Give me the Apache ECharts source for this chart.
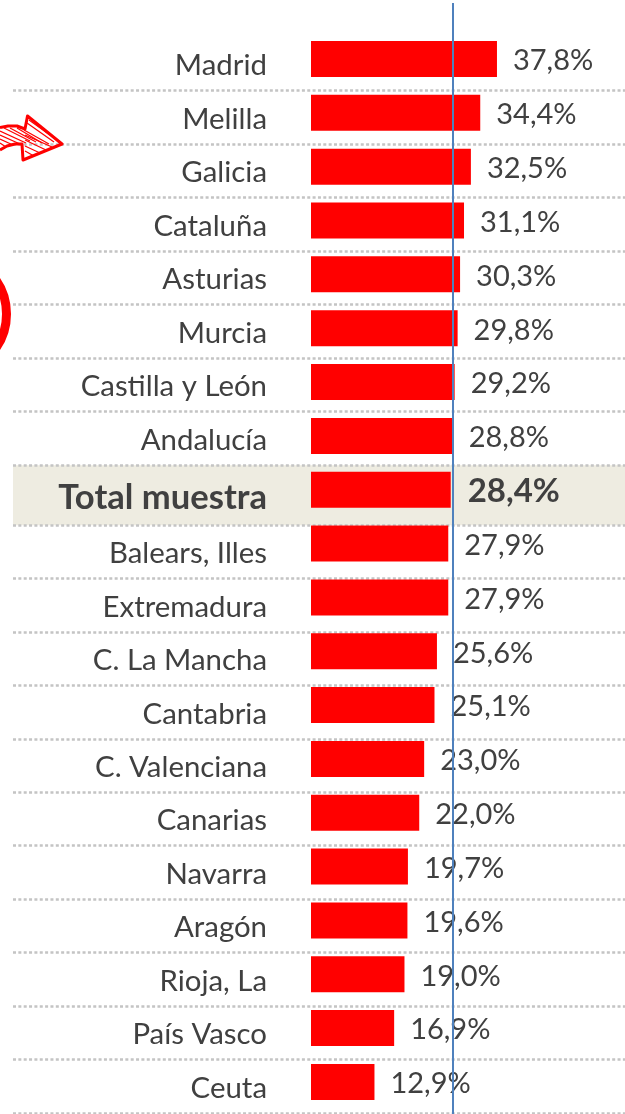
<!DOCTYPE html>
<html>
<head>
<meta charset="utf-8">
<style>html,body{margin:0;padding:0;background:#fff}#c{width:625px;height:1114px}</style>
<script src="https://cdn.jsdelivr.net/npm/echarts@6/dist/echarts.min.js"></script>
</head>
<body>
<div id="c"></div>
<script>
const categories = ['Madrid','Melilla','Galicia','Cataluña','Asturias','Murcia','Castilla y León','Andalucía','Total muestra','Balears, Illes','Extremadura','C. La Mancha','Cantabria','C. Valenciana','Canarias','Navarra','Aragón','Rioja, La','País Vasco','Ceuta'];
const values = [37.8,34.4,32.5,31.1,30.3,29.8,29.2,28.8,28.4,27.9,27.9,25.6,25.1,23.0,22.0,19.7,19.6,19.0,16.9,12.9];
const totalName = 'Total muestra';
const referenceValue = 28.86;

const FONT = 'Lato';
const TEXT = '#404040';
const totalIdx = categories.indexOf(totalName);
const rowGroups = [categories.slice(0,totalIdx), [totalName], categories.slice(totalIdx+1)];
const rowLayouts = [
  {top:37.2, height:428, min:false, max:true},
  {top:465.2, height:60, min:false, max:false, bg:'#eeece1'},
  {top:525, height:588, min:true, max:true}
];
const fmt = v => v.toFixed(1).replace('.',',') + '%';

const grids = [], xAxes = [], yAxes = [], series = [];
rowGroups.forEach((names,i)=>{
  const L = rowLayouts[i], bold = names[0]===totalName;
  const size = bold ? 34.6 : 29.4;
  grids.push({left:13,width:612,top:L.top,height:L.height,show:!!L.bg,backgroundColor:L.bg||'transparent',borderWidth:0});
  xAxes.push({gridIndex:i,type:'value',min:0,max:1,show:false});
  yAxes.push({gridIndex:i,type:'category',inverse:true,data:names,offset:-254,
    axisLine:{show:false},axisTick:{show:false},
    axisLabel:{margin:0,formatter:'{a|{value}}',
      rich:{a:{padding:[bold?6:4,0,0,0],fontFamily:FONT,fontSize:size,fontWeight:bold?'bold':'normal',color:TEXT}}},
    splitLine:{show:true,showMinLine:L.min,showMaxLine:L.max,lineStyle:{color:'#c4c4c4',width:2.5,type:[3,2.35]}}
  });
  series.push({type:'bar',xAxisIndex:i,yAxisIndex:i,data:names.map(()=>0),silent:true,itemStyle:{color:'transparent'}});
});

grids.push({left:311,width:196.8,top:32.08,height:1076.8,show:false});
xAxes.push({gridIndex:3,type:'value',min:0,max:40,show:false});
yAxes.push({gridIndex:3,type:'category',inverse:true,data:categories,show:false});
series.push({
  type:'bar',xAxisIndex:3,yAxisIndex:3,barWidth:36,z:3,
  itemStyle:{color:'#ff0000'},
  label:{show:true,position:'right',distance:16,offset:[0,2],fontFamily:FONT,fontSize:29,color:TEXT,formatter:p=>fmt(p.value)},
  data:values.map((v,i)=>categories[i]===totalName?{value:v,label:{fontWeight:'bold',fontSize:33,offset:[1,2]}}:v),
  markLine:{silent:true,symbol:'none',z:10,label:{show:false},animation:false,
    lineStyle:{color:'#4f81bd',width:2,type:'solid'},
    data:[[{xAxis:referenceValue,y:3},{xAxis:referenceValue,y:1114}]]}
});

const hatch = [[0,131,26,143],[0,135,20,144],[0,139,13,145],[0,143,6,147],[4,128,30,141],[10,128,36,142],[17,128,42,143],[24,130,49,144],[27,123,54,142],[29,120,50,135],[25,135,52,147],[25,140,46,150],[25,146,40,153],[25,151,34,156]];
const chart = echarts.init(document.getElementById('c'),null,{renderer:'canvas'});
chart.setOption({
  animation:false,
  backgroundColor:'#fff',
  grid:grids,xAxis:xAxes,yAxis:yAxes,series:series,
  graphic:[
    {type:'circle',silent:true,z:20,shape:{cx:-53,cy:314,r:59.5},style:{fill:'none',stroke:'#ff0000',lineWidth:9}},
    {type:'polyline',silent:true,z:20,shape:{points:[[0,127.5],[8,126],[17,126],[25,129],[27.5,116],[62,144],[23,160],[22,144],[15,144],[7,146],[0,150]]},
      style:{fill:'none',stroke:'#ff0000',lineWidth:3,lineJoin:'round'}}
  ].concat(hatch.map(h=>({type:'line',silent:true,z:20,shape:{x1:h[0],y1:h[1],x2:h[2],y2:h[3]},style:{stroke:'#ff0000',lineWidth:1.2}})))
});
</script>
</body>
</html>
